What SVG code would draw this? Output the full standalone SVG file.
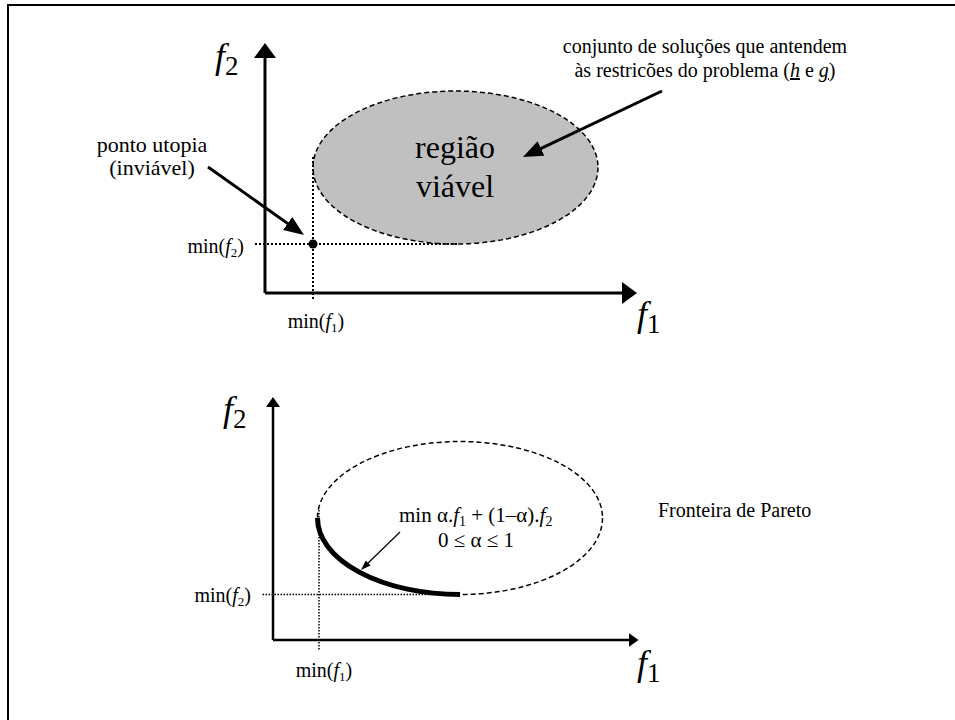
<svg xmlns="http://www.w3.org/2000/svg" width="955" height="720" viewBox="0 0 955 720" font-family="'Liberation Serif', 'Times New Roman', serif">
<style>
text{font-family:"Liberation Serif","Times New Roman",serif;fill:#000}
.axis{stroke:#000;stroke-width:3;fill:none}
.axis2{stroke:#000;stroke-width:2.5;fill:none}
.dots{stroke:#000;stroke-width:2;stroke-dasharray:2 2;fill:none}
.dots2{stroke:#000;stroke-width:1.5;stroke-dasharray:1.5 1.5;fill:none}
.dash{stroke:#000;stroke-width:1.5;stroke-dasharray:5 3}
.lbl{font-size:20px}
.l21{font-size:21px}
.l22{font-size:22px}
.big{font-size:32px}
.fl{font-size:36px}
.it{font-style:italic}
</style>
<defs>
<marker id="headBig" markerUnits="userSpaceOnUse" markerWidth="16" markerHeight="22" refX="5" refY="11" orient="auto"><path d="M0,0 L15,11 L0,22 Z" fill="#000"/></marker>
<marker id="headSmall" markerUnits="userSpaceOnUse" markerWidth="11" markerHeight="14" refX="4" refY="7" orient="auto"><path d="M0,0 L10,7 L0,14 Z" fill="#000"/></marker>
<marker id="headPtr" markerUnits="userSpaceOnUse" markerWidth="21" markerHeight="16" refX="8" refY="8" orient="auto"><path d="M0,0 L20,8 L0,16 Z" fill="#000"/></marker>
<marker id="headThin" markerUnits="userSpaceOnUse" markerWidth="11" markerHeight="8" refX="4" refY="3.5" orient="auto"><path d="M0,0 L10,3.5 L0,7 Z" fill="#000"/></marker>
</defs>
<g id="frame" stroke="#000" stroke-width="2">
<line x1="7" y1="5" x2="955" y2="5"/>
<line x1="8" y1="4" x2="8" y2="720"/>
</g>
<g id="regiao-viavel">
<ellipse cx="455.5" cy="167.5" rx="142.5" ry="76.5" fill="#c0c0c0" class="dash"/>
<text class="big" x="455" y="158" text-anchor="middle">região</text>
<text class="big" x="455" y="197" text-anchor="middle">viável</text>
</g>
<g id="ponto-utopia">
<circle cx="313" cy="244" r="4.5" fill="#000"/>
<text class="l22" x="152" y="152" text-anchor="middle">ponto utopia</text>
<text class="l22" x="152" y="175" text-anchor="middle">(inviável)</text>
</g>
<g id="conjunto">
<text class="lbl" x="705" y="53" text-anchor="middle">conjunto de soluções que antendem</text>
<text class="lbl" x="705" y="77" text-anchor="middle">às restricões do problema (<tspan class="it" text-decoration="underline">h</tspan> e <tspan class="it" text-decoration="underline">g</tspan>)</text>
</g>
<g id="top-labels">
<text class="fl" x="215" y="68"><tspan class="it">f</tspan><tspan font-size="27" dy="7">2</tspan></text>
<text class="fl" x="637" y="326"><tspan class="it">f</tspan><tspan font-size="27" dy="7">1</tspan></text>
<text class="lbl" x="244" y="253" text-anchor="end">min(<tspan class="it">f</tspan><tspan font-size="13" dy="4">2</tspan><tspan dy="-4">)</tspan></text>
<text class="lbl" x="316" y="328" text-anchor="middle">min(<tspan class="it">f</tspan><tspan font-size="13" dy="4">1</tspan><tspan dy="-4">)</tspan></text>
</g>
<g id="fronteira">
<ellipse cx="460" cy="518" rx="142.5" ry="76.5" fill="none" class="dash"/>
<path d="M317.5,518 A142.5,76.5 0 0 0 460,594.5" fill="none" stroke="#000" stroke-width="5"/>
<text class="l21" x="399" y="522">min α.<tspan class="it">f</tspan><tspan font-size="14" dy="4">1</tspan><tspan dy="-4"> + (1–α).</tspan><tspan class="it">f</tspan><tspan font-size="14" dy="4">2</tspan></text>
<text class="l21" x="476" y="547" text-anchor="middle">0 ≤ α ≤ 1</text>
<text class="lbl" x="658" y="517">Fronteira de Pareto</text>
</g>
<g id="bottom-labels">
<text class="fl" x="223" y="421"><tspan class="it">f</tspan><tspan font-size="27" dy="7">2</tspan></text>
<text class="fl" x="637" y="675"><tspan class="it">f</tspan><tspan font-size="27" dy="7">1</tspan></text>
<text class="lbl" x="251" y="602" text-anchor="end">min(<tspan class="it">f</tspan><tspan font-size="13" dy="4">2</tspan><tspan dy="-4">)</tspan></text>
<text class="lbl" x="324" y="677" text-anchor="middle">min(<tspan class="it">f</tspan><tspan font-size="13" dy="4">1</tspan><tspan dy="-4">)</tspan></text>
</g>
<g id="connectors">
<path class="axis" d="M265,293 V53" marker-end="url(#headBig)"/>
<path class="axis" d="M265,293 H627" marker-end="url(#headBig)"/>
<path class="dots" d="M313,157 V300"/>
<path class="dots" d="M255,244 H457"/>
<path class="axis" d="M208,167 L294.2,228.1" marker-end="url(#headPtr)"/>
<path class="axis" d="M662,91 L533.8,151.9" marker-end="url(#headPtr)"/>
<path class="axis2" d="M273,640 V403" marker-end="url(#headSmall)"/>
<path class="axis2" d="M273,640 H632.6" marker-end="url(#headSmall)"/>
<path class="dots2" d="M319,510 V650"/>
<path class="dots2" d="M262.5,594.5 H460"/>
<path d="M400,532 L365.3,565.8" stroke="#000" stroke-width="1.2" fill="none" marker-end="url(#headThin)"/>
</g>
</svg>
